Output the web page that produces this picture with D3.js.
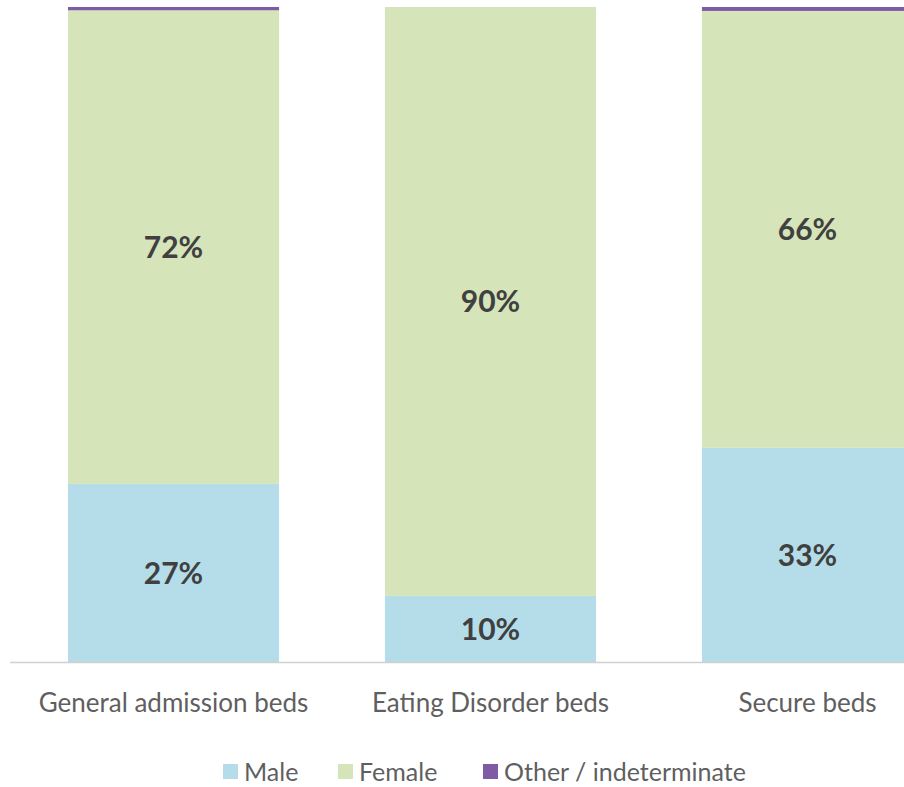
<!DOCTYPE html>
<meta charset="utf-8">
<script src="https://d3js.org/d3.v7.min.js"></script>
<style>
  body { margin: 0; background: #fff; }
  text { font-family: Lato, "Open Sans", sans-serif; }
</style>
<body>
<div id="chart"></div>
<script>

// data (percent of beds)
var categories = ["General admission beds", "Eating Disorder beds", "Secure beds"];
var male   = [27.2, 10.1, 32.7];
var female = [72.3, 89.9, 66.7];
var other  = [0.5, 0, 0.6];
var maleLabels   = ["27%", "10%", "33%"];
var femaleLabels = ["72%", "90%", "66%"];
var seriesNames = ["Male", "Female", "Other / indeterminate"];
var seriesColors = ["#b5dde9", "#d5e4b9", "#7f5ba6"];

var width = 904, height = 787;
var top0 = 7, base = 662;

var svg = d3.select("#chart").append("svg")
    .attr("width", width)
    .attr("height", height);

var rows = categories.map(function(c, i) {
  return {cat: c, Male: male[i], Female: female[i], "Other / indeterminate": other[i]};
});

var stack = d3.stack().keys(seriesNames)(rows);

var x = d3.scaleBand()
    .domain(categories)
    .range([15, 15 + 3 * 317])
    .paddingInner(0.334)
    .paddingOuter(0.167);

var y = d3.scaleLinear()
    .domain([0, 100])
    .range([base, top0]);

var color = d3.scaleOrdinal().domain(seriesNames).range(seriesColors);

// bars
svg.append("g").selectAll("g")
  .data(stack)
  .enter().append("g")
    .attr("fill", function(d) { return color(d.key); })
  .selectAll("rect")
  .data(function(d) { return d; })
  .enter().append("rect")
    .attr("x", function(d) { return x(d.data.cat); })
    .attr("y", function(d) { return y(d[1]); })
    .attr("width", x.bandwidth())
    .attr("height", function(d) { return y(d[0]) - y(d[1]); });

// baseline
svg.append("line")
    .attr("x1", 10).attr("x2", width)
    .attr("y1", base + 0.5).attr("y2", base + 0.5)
    .attr("stroke", "#d0d0d0")
    .attr("stroke-width", 1.5);

// value labels
var labels = svg.append("g")
    .attr("font-size", "30px")
    .attr("font-weight", "bold")
    .attr("fill", "#404040")
    .attr("text-anchor", "middle");

categories.forEach(function(c, i) {
  labels.append("text")
    .attr("x", x(c) + x.bandwidth() / 2)
    .attr("y", (y(0) + y(male[i])) / 2)
    .attr("dy", "0.36em")
    .text(maleLabels[i]);
  labels.append("text")
    .attr("x", x(c) + x.bandwidth() / 2)
    .attr("y", (y(male[i]) + y(male[i] + female[i])) / 2)
    .attr("dy", "0.36em")
    .text(femaleLabels[i]);
});

// category axis
var xAxis = svg.append("g")
    .attr("transform", "translate(0," + base + ")")
    .call(d3.axisBottom(x).tickSize(0).tickPadding(32));
xAxis.select(".domain").remove();
xAxis.selectAll("text")
    .attr("font-size", "26px")
    .attr("fill", "#5f5f5f")
    .style("font-family", "Lato, sans-serif");

// legend
var legendX = [223, 338, 483];
var legend = svg.append("g").selectAll("g")
  .data(seriesNames)
  .enter().append("g")
    .attr("transform", function(d, i) { return "translate(" + legendX[i] + ",764)"; });

legend.append("rect")
    .attr("width", 15)
    .attr("height", 15)
    .attr("fill", function(d) { return color(d); });

legend.append("text")
    .attr("x", 21)
    .attr("y", 8)
    .attr("dy", "0.36em")
    .attr("font-size", "25px")
    .attr("fill", "#5f5f5f")
    .text(function(d) { return d; });

</script>
</body>
